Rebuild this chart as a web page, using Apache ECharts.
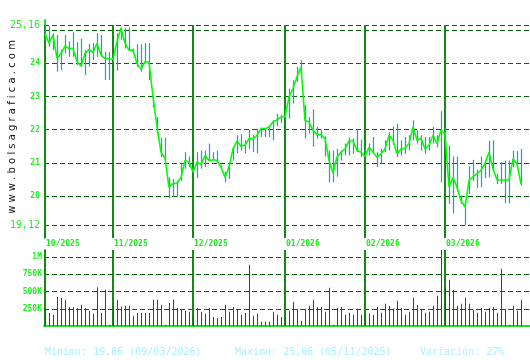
<!DOCTYPE html>
<html><head><meta charset="utf-8">
<script src="https://cdn.jsdelivr.net/npm/echarts@6/dist/echarts.min.js"></script>
<style>html,body{margin:0;padding:0;background:#fff}#c{width:530px;height:360px}</style>
</head><body><div id="c"></div>
<script>
const closes = [
24.89,24.61,24.86,24.15,24.30,24.52,24.45,24.45,24.05,23.92,
24.30,24.42,24.32,24.61,24.25,24.15,24.14,24.12,24.66,25.06,
24.61,24.40,24.40,24.00,23.82,24.05,24.05,22.99,22.08,21.32,
21.14,20.26,20.38,20.38,20.56,21.07,21.02,20.72,21.02,20.95,
21.22,21.07,21.09,21.07,20.87,20.56,20.87,21.42,21.66,21.50,
21.53,21.73,21.73,21.83,22.03,22.03,22.08,22.23,22.30,22.38,
22.38,22.99,23.24,23.60,23.90,22.28,22.23,21.98,21.85,21.85,
21.73,21.07,20.69,21.17,21.32,21.42,21.66,21.66,21.37,21.32,
21.19,21.47,21.32,21.17,21.27,21.42,21.83,21.68,21.27,21.42,
21.44,21.58,22.08,21.68,21.73,21.42,21.53,21.83,21.58,21.98,
21.88,20.26,20.56,20.26,19.86,19.66,20.46,20.58,20.67,20.77,
20.99,21.32,20.82,20.48,20.48,20.48,20.48,21.12,20.97,20.36];
const highs = [
25.15,25.13,24.91,24.86,24.42,24.86,24.66,24.94,24.64,24.74,
24.40,24.59,24.61,24.91,24.86,24.35,24.35,24.15,24.91,25.09,
25.06,25.09,24.45,24.58,24.58,24.61,24.61,23.04,22.38,21.76,
21.76,20.56,20.51,20.46,20.97,21.32,21.19,20.87,21.32,21.37,
21.37,21.58,21.32,21.37,20.92,20.72,20.97,21.47,21.83,21.86,
21.68,22.00,21.83,22.03,22.06,22.03,22.08,22.28,22.48,22.45,
22.65,23.24,23.49,23.90,24.10,22.74,22.38,22.61,22.08,22.00,
21.80,21.37,21.37,21.42,21.37,21.58,21.76,21.73,22.00,21.70,
21.47,21.58,21.78,21.32,21.42,21.68,21.93,22.10,22.18,21.68,
21.78,21.83,22.28,21.98,21.83,21.78,21.78,22.08,21.83,22.56,
22.06,21.52,21.19,21.19,20.01,19.86,20.89,21.09,20.79,21.19,
21.07,21.66,21.68,20.67,21.03,21.07,21.07,21.37,21.35,21.42];
const lows = [
24.71,24.50,24.40,23.75,23.80,24.30,24.20,24.20,23.95,23.90,
23.65,23.90,24.10,24.20,24.20,23.50,23.50,24.05,23.78,24.71,
24.45,24.40,24.35,23.90,23.75,24.00,23.50,22.67,21.88,21.17,
21.07,19.94,19.98,19.98,20.46,20.82,20.87,20.67,20.54,20.82,
20.87,21.07,21.07,21.02,20.82,20.41,20.51,21.07,21.29,21.37,
21.29,21.42,21.32,21.29,21.78,21.78,21.78,21.68,22.10,22.20,
22.33,22.33,22.79,23.44,23.70,21.73,21.88,21.49,21.73,21.73,
21.19,20.41,20.41,20.58,21.07,21.22,21.22,21.27,21.32,21.17,
21.17,21.22,21.29,20.87,20.97,21.32,21.37,21.62,21.17,21.22,
21.27,21.37,21.68,21.58,21.37,21.27,21.37,21.58,21.47,20.41,
21.78,19.76,19.47,20.14,19.76,19.12,20.06,20.46,20.24,20.26,
20.54,20.56,20.77,20.36,20.36,19.78,19.78,20.87,20.87,20.31];
const volumesK = [
261,188,164,420,406,382,275,275,261,309,
261,222,179,565,188,527,19,290,382,285,
295,295,150,188,188,188,188,382,382,309,
19,333,382,261,237,222,208,164,261,208,
179,261,130,116,130,309,208,275,237,164,
188,889,150,179,63,63,63,208,164,130,
130,222,353,251,77,251,295,382,275,275,
208,556,19,266,275,164,193,164,251,164,
164,179,164,275,193,324,290,251,367,261,
164,208,411,304,237,193,208,295,440,1106,
556,671,522,295,324,411,324,237,193,261,
208,261,275,193,831,251,19,295,222,382];
const monthIdx = [0,17,37,60,80,100];
const monthLabels = ['10/2025','11/2025','12/2025','01/2026','02/2026','03/2026'];
const priceTicks = [19.12,20,21,22,23,24,25,25.16];
const priceLabels = ['19,12','20','21','22','23','24','','25,16'];
const volTicks = [250,500,750,1000];
const volLabels = ['250K','500K','750K','1M'];
const statsText = ['Minimo: 19,66 (09/03/2026)','Maximo: 25,06 (05/11/2025)','Variación: 27%'];
const siteText = 'www.bolsagrafica.com';

const PMIN = 18.73, PMAX = 25.31, VMAX = 1105;
const MONO = '"DejaVu Sans Mono", monospace';
const chart = echarts.init(document.getElementById('c'), null, {renderer:'canvas'});

function monthLineSeries(gi, yTop, yBot, withLabel){
  return {
    type:'custom', xAxisIndex:gi, yAxisIndex:gi, z:3, silent:true, clip:false,
    data: monthIdx.map((m,k)=>[m,k]),
    renderItem: function(params, api){
      const p1 = api.coord([api.value(0), yTop]);
      const p2 = api.coord([api.value(0), yBot]);
      const x = Math.round(p1[0]);
      const children = [{type:'line', shape:{x1:x, y1:p1[1], x2:x, y2:p2[1]}, style:{stroke:'#138a13', lineWidth:2}}];
      if (withLabel) {
        children.push({type:'text', style:{text:monthLabels[api.value(1)], x:x+1, y:p2[1]+6, fill:'#1fe81f', font:'bold 8px '+MONO, verticalAlign:'middle', align:'left'}});
      }
      return {type:'group', children};
    }
  };
}

const option = {
  animation:false,
  backgroundColor:'#ffffff',
  grid:[
    {left:44, right:0, top:20, height:218},
    {left:44, right:0, top:250, height:76}
  ],
  xAxis:[
    {gridIndex:0, type:'value', min:-0.25, max:121.25, show:false},
    {gridIndex:1, type:'value', min:-0.25, max:121.25,
     axisLine:{show:true, onZero:false, lineStyle:{color:'#22dd22', width:2}},
     axisTick:{show:false}, axisLabel:{show:false}, splitLine:{show:false}}
  ],
  yAxis:[
    {gridIndex:0, type:'value', min:PMIN, max:PMAX,
     axisLine:{show:true, lineStyle:{color:'#22dd22', width:2}},
     axisTick:{show:false, customValues:priceTicks},
     axisLabel:{customValues:priceTicks, margin:4, color:'#22ee22',
       formatter:function(v){
         const k = priceTicks.findIndex(t=>Math.abs(t-v)<1e-6);
         if (k<0 || !priceLabels[k]) return '';
         return (k===0 || k===priceTicks.length-1) ? '{b|'+priceLabels[k]+'}' : '{s|'+priceLabels[k]+'}';
       },
       rich:{b:{fontFamily:MONO, fontSize:10, color:'#22ee22'}, s:{fontFamily:MONO, fontSize:8, fontWeight:'bold', color:'#22ee22'}}},
     splitLine:{show:true, lineStyle:{type:[5,3], color:'#006400', width:1}}},
    {gridIndex:1, type:'value', min:0, max:VMAX,
     axisLine:{show:true, lineStyle:{color:'#22dd22', width:2}},
     axisTick:{show:false, customValues:volTicks},
     axisLabel:{customValues:volTicks, margin:2, color:'#22ee22', fontFamily:MONO, fontSize:8, fontWeight:'bold',
       formatter:function(v){ const k = volTicks.findIndex(t=>Math.abs(t-v)<1e-6); return k<0?'':volLabels[k]; }},
     splitLine:{show:true, lineStyle:{type:[5,3], color:'#006400', width:1}}}
  ],
  graphic:[
    {type:'text', x:12, y:127, rotation:Math.PI/2, silent:true,
     style:{text:siteText.split('').join(' '), fill:'#111111', font:'10px "DejaVu Sans", sans-serif', align:'center', verticalAlign:'middle'}},
    {type:'text', x:45, y:352, silent:true, style:{text:statsText[0], fill:'#a8f0ff', font:'10px '+MONO, verticalAlign:'middle'}},
    {type:'text', x:235, y:352, silent:true, style:{text:statsText[1], fill:'#a8f0ff', font:'10px '+MONO, verticalAlign:'middle'}},
    {type:'text', x:420, y:352, silent:true, style:{text:statsText[2], fill:'#a8f0ff', font:'10px '+MONO, verticalAlign:'middle'}}
  ],
  series:[
    {type:'custom', xAxisIndex:0, yAxisIndex:0, z:4, silent:true,
     data: closes.map((c,i)=>[i, lows[i], highs[i]]),
     renderItem:function(params, api){
       const a = api.coord([api.value(0), api.value(1)]);
       const b = api.coord([api.value(0), api.value(2)]);
       const x = Math.round(a[0]) + 0.5;
       return {type:'line', shape:{x1:x, y1:a[1], x2:x, y2:b[1]}, style:{stroke:'#17a5b3', lineWidth:1.2}};
     }},
    {type:'line', xAxisIndex:0, yAxisIndex:0, z:5, silent:true, symbol:'none',
     data: closes.map((c,i)=>[i,c]),
     lineStyle:{color:'#00ff00', width:1.6}},
    monthLineSeries(0, 25.16, PMIN, true),
    {type:'custom', xAxisIndex:1, yAxisIndex:1, z:4, silent:true,
     data: volumesK.map((v,i)=>[i,v]),
     renderItem:function(params, api){
       const top = api.coord([api.value(0), api.value(1)]);
       const base = api.coord([api.value(0), 0]);
       const x = Math.round(top[0]);
       return {type:'rect', shape:{x:x, y:top[1], width:1, height:base[1]-top[1]}, style:{fill:'#dd0000'}};
     }},
    monthLineSeries(1, VMAX, 0, false)
  ]
};
chart.setOption(option);
</script>
</body></html>
